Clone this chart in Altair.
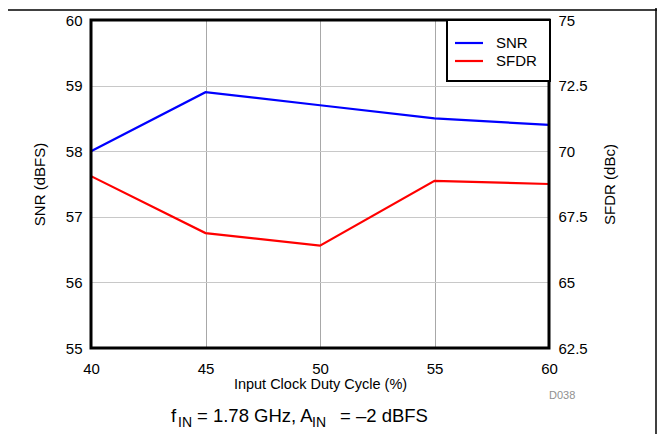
import altair as alt
import pandas as pd

duty = [40, 45, 50, 55, 60]
snr = [58.0, 58.9, 58.7, 58.5, 58.4]
sfdr = [69.05, 66.88, 66.4, 68.87, 68.75]

snr_ticks = [55, 56, 57, 58, 59, 60]
sfdr_ticks = [62.5, 65, 67.5, 70, 72.5, 75]
x_ticks = [40, 45, 50, 55, 60]

df = pd.DataFrame({"duty": duty, "snr": snr, "sfdr": sfdr})

FONT = "Liberation Sans"
W, H = 458, 328

xenc = alt.X("duty:Q", scale=alt.Scale(domain=[40, 60], nice=False),
             axis=alt.Axis(values=x_ticks, title="Input Clock Duty Cycle (%)",
                           grid=True, gridColor="#a8a8a8", gridWidth=1,
                           domain=False, ticks=False, labelPadding=13, labelFlush=False,
                           labelFontSize=15, titleFontSize=14.5, titleFontWeight="normal",
                           titlePadding=1, labelFont=FONT, titleFont=FONT,
                           labelColor="black", titleColor="black"))

snr_line = alt.Chart(df).mark_line(color="#0000ff", strokeWidth=2.2).encode(
    x=xenc,
    y=alt.Y("snr:Q", scale=alt.Scale(domain=[55, 60], nice=False),
            axis=alt.Axis(values=snr_ticks, title="SNR (dBFS)", orient="left",
                          grid=True, gridColor="#c8c8c8", gridWidth=1,
                          domain=False, ticks=False, labelPadding=9, labelFlush=False,
                          labelFontSize=15, titleFontSize=15, titleFontWeight="normal",
                          titlePadding=18, labelFont=FONT, titleFont=FONT,
                          labelColor="black", titleColor="black")),
)

sfdr_line = alt.Chart(df).mark_line(color="#ff0000", strokeWidth=2.2).encode(
    x=alt.X("duty:Q", scale=alt.Scale(domain=[40, 60], nice=False)),
    y=alt.Y("sfdr:Q", scale=alt.Scale(domain=[62.5, 75], nice=False),
            axis=alt.Axis(values=sfdr_ticks, title="SFDR (dBc)", orient="right",
                          grid=False, format=".1~f", labelFlush=False,
                          domain=False, ticks=False, labelPadding=9,
                          labelFontSize=15, titleFontSize=15, titleFontWeight="normal",
                          titlePadding=30, titleAngle=270, labelFont=FONT, titleFont=FONT,
                          labelColor="black", titleColor="black")),
)

one = alt.Data(values=[{"a": 1}])

# plot frame
frame = alt.Chart(one).mark_rect(fillOpacity=0, stroke="black", strokeWidth=3).encode(
    x=alt.value(0), x2=alt.value(W), y=alt.value(0), y2=alt.value(H))

# legend box
leg_box = alt.Chart(one).mark_rect(fill="white", stroke="black", strokeWidth=2).encode(
    x=alt.value(356), x2=alt.value(459), y=alt.value(0), y2=alt.value(61))
legend_names = ["SNR", "SFDR"]
legend_colors = ["#0000ff", "#ff0000"]
leg_layers = [leg_box]
for i, (nm, col) in enumerate(zip(legend_names, legend_colors)):
    yy = 23 + 18 * i
    leg_layers.append(alt.Chart(one).mark_rule(color=col, strokeWidth=2.2).encode(
        x=alt.value(364), x2=alt.value(392), y=alt.value(yy)))
    leg_layers.append(alt.Chart(one).mark_text(
        text=nm, font=FONT, fontSize=15, align="left", baseline="middle", color="black"
    ).encode(x=alt.value(405), y=alt.value(yy)))

# frame lines of figure
top_line = alt.Chart(one).mark_rule(color="black", strokeWidth=1.5).encode(
    x=alt.value(-83), x2=alt.value(566), y=alt.value(-10))
right_line = alt.Chart(one).mark_rule(color="black", strokeWidth=1.5).encode(
    x=alt.value(565), y=alt.value(-12), y2=alt.value(420))

# code label
code = alt.Chart(one).mark_text(text="D038", font=FONT, fontSize=11, align="left",
                                baseline="middle", color="#909090").encode(
    x=alt.value(458), y=alt.value(376))

# caption with subscripts
cap_parts = [("f", 80, 18.5, 402), ("IN", 87, 14, 407), ("= 1.78 GHz, A", 106, 18.5, 402),
             ("IN", 221, 14, 407), ("= \u20132 dBFS", 249, 18.5, 402)]
cap_layers = []
for txt, xx, fs, yy in cap_parts:
    cap_layers.append(alt.Chart(one).mark_text(
        text=txt, font=FONT, fontSize=fs, align="left", baseline="alphabetic", color="black"
    ).encode(x=alt.value(xx), y=alt.value(yy)))

chart = alt.layer(snr_line, sfdr_line, frame, *leg_layers, top_line, right_line, code,
                  *cap_layers).resolve_scale(
    y="independent"
).properties(
    width=W, height=H,
    autosize=alt.AutoSizeParams(type="none"),
    padding={"left": 83, "top": 12, "right": 108, "bottom": 86},
).configure_view(stroke=None).configure(background="white")

chart.save("out.html", embed_options={"renderer": "svg", "actions": False})
